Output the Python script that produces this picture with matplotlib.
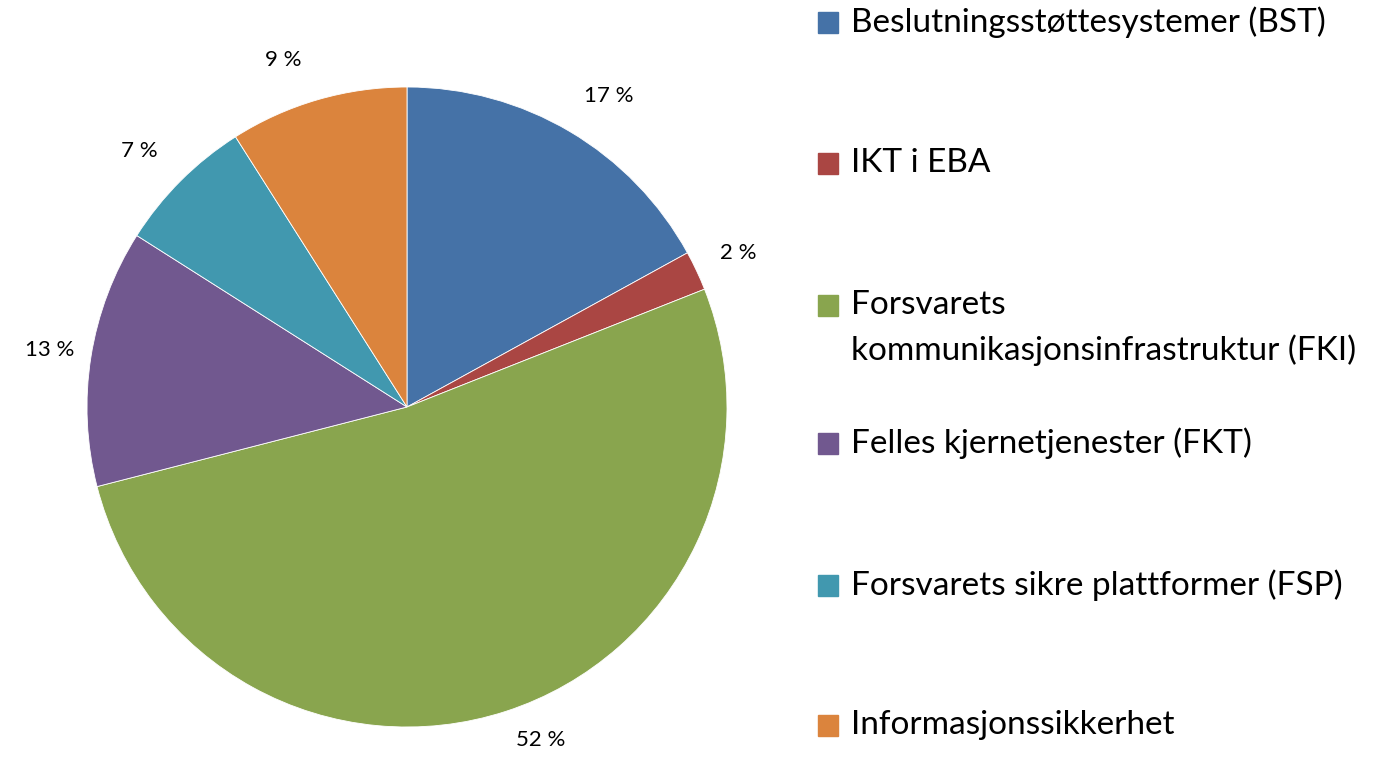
import matplotlib.pyplot as plt
from matplotlib.patches import Rectangle

plt.rcParams['font.family'] = ['Lato', 'DejaVu Sans']

categories = ['Beslutningsstøttesystemer (BST)', 'IKT i EBA',
              'Forsvarets\nkommunikasjonsinfrastruktur (FKI)',
              'Felles kjernetjenester (FKT)',
              'Forsvarets sikre plattformer (FSP)',
              'Informasjonssikkerhet']
shares = [17, 2, 52, 13, 7, 9]
colors = ['#4572A7', '#AA4643', '#89A54E', '#71588F', '#4198AF', '#DB843D']

W, H = 1399, 758
fig = plt.figure(figsize=(W / 100, H / 100), dpi=100)

# pie: centre (407, 407) px, radius 320 px
cx, cy, r = 407, 407, 320
ax = fig.add_axes([(cx - r) / W, (H - cy - r) / H, 2 * r / W, 2 * r / H])
wedges, texts = ax.pie(shares, colors=colors, startangle=90, counterclock=False,
                       labels=[f'{v} %' for v in shares], labeldistance=1.13,
                       wedgeprops=dict(edgecolor='white', linewidth=0.6),
                       textprops=dict(fontsize=16, color='black'))
for t in texts:
    t.set_ha('center')
    t.set_va('center')
    x, y = t.get_position()
    # nudge labels a little sideways, like the Excel layout, keep inside figure
    t.set_position((x + 0.06 * (1 if x > 0 else -1) * abs(y) ** 2, max(y, -1.04)))
ax.set_xlim(-1, 1)
ax.set_ylim(-1, 1)
ax.set_aspect('equal')
ax.axis('off')

# legend drawn by hand to match the spacing of the original
ys = [22, 163, 305, 443, 585, 725]
for lab, col, y in zip(categories, colors, ys):
    fig.patches.append(Rectangle((818 / W, (H - y - 10.5) / H), 20 / W, 21 / H,
                                 transform=fig.transFigure, color=col))
    lines = lab.split('\n')
    for i, line in enumerate(lines):
        fig.text(851 / W, (H - y - 45 * i) / H, line, fontsize=24,
                 va='center', ha='left')

fig.savefig('out.png', dpi=100)
